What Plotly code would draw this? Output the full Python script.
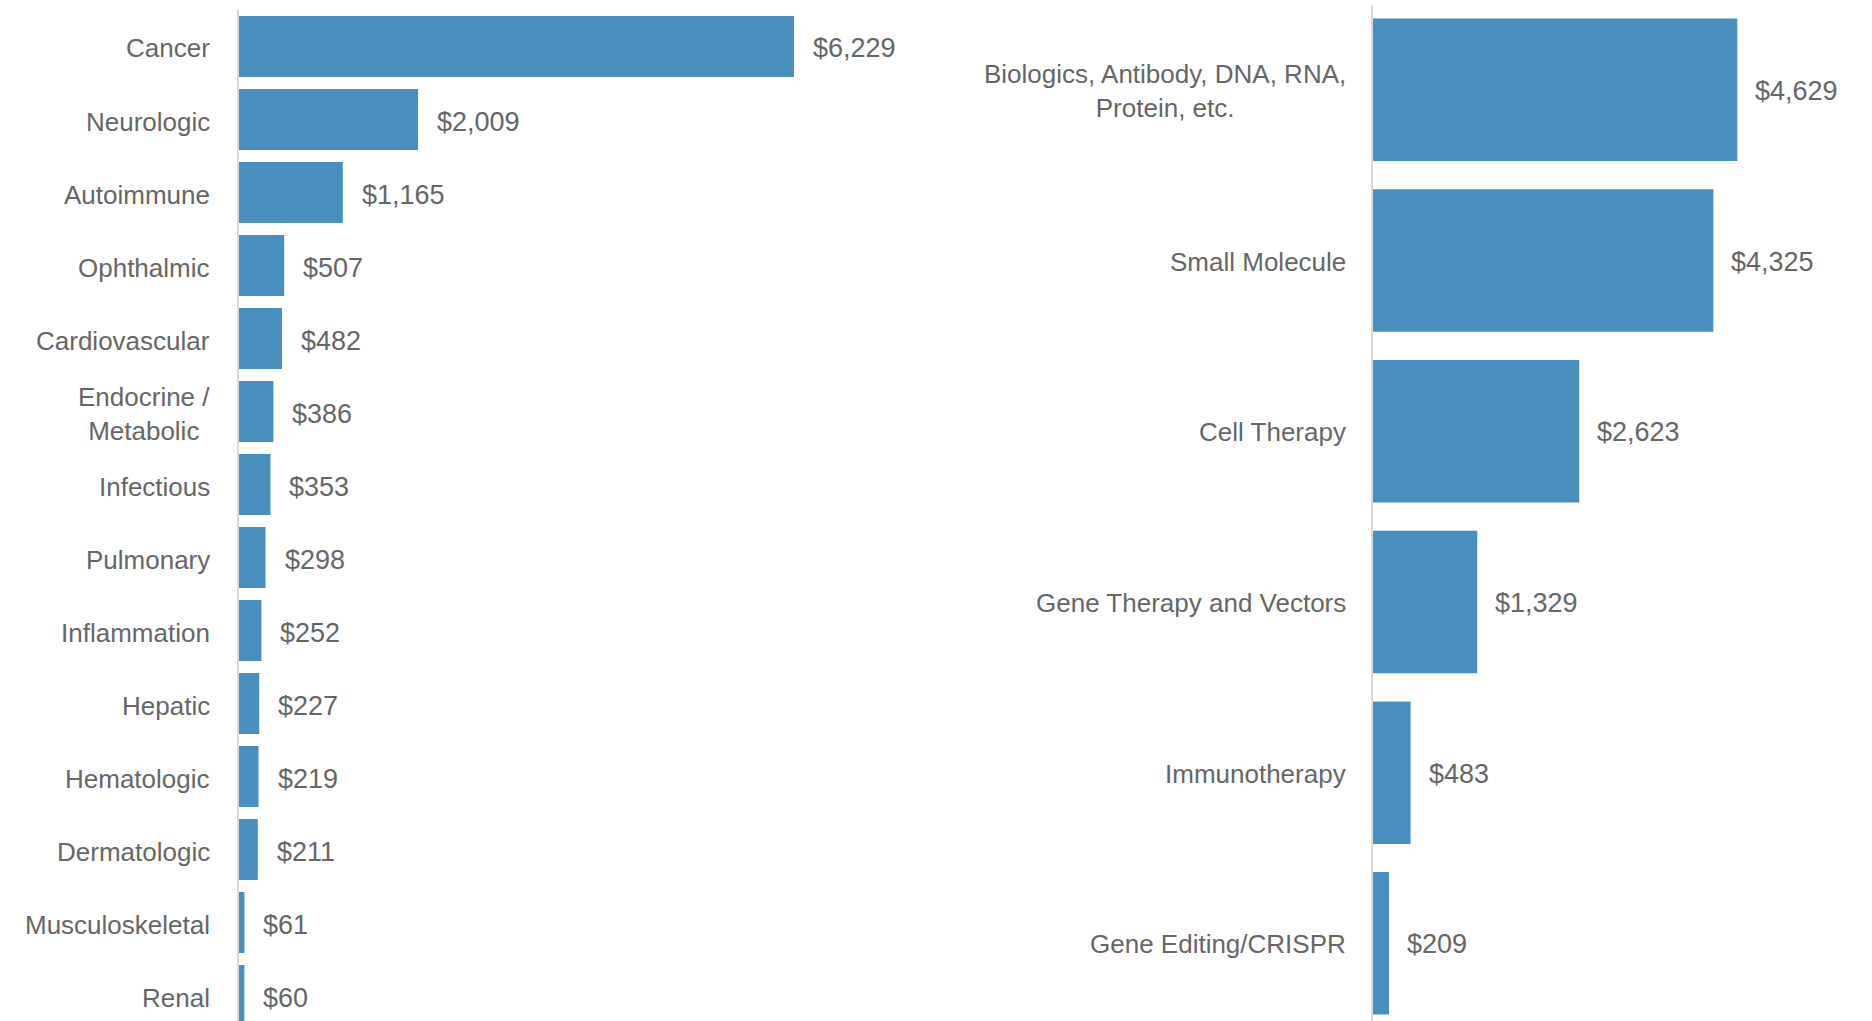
import plotly.graph_objects as go

# ---- data ----
area_categories = ["Cancer", "Neurologic", "Autoimmune", "Ophthalmic", "Cardiovascular",
                   "Endocrine / Metabolic", "Infectious", "Pulmonary", "Inflammation",
                   "Hepatic", "Hematologic", "Dermatologic", "Musculoskeletal", "Renal"]
area_labels = ["Cancer", "Neurologic", "Autoimmune", "Ophthalmic", "Cardiovascular",
               "Endocrine /<br>Metabolic", "Infectious", "Pulmonary", "Inflammation",
               "Hepatic", "Hematologic", "Dermatologic", "Musculoskeletal", "Renal"]
area_values = [6229, 2009, 1165, 507, 482, 386, 353, 298, 252, 227, 219, 211, 61, 60]

modality_categories = ["Biologics, Antibody, DNA, RNA, Protein, etc.", "Small Molecule",
                       "Cell Therapy", "Gene Therapy and Vectors", "Immunotherapy",
                       "Gene Editing/CRISPR"]
modality_labels = ["Biologics, Antibody, DNA, RNA,<br>Protein, etc.", "Small Molecule",
                   "Cell Therapy", "Gene Therapy and Vectors", "Immunotherapy",
                   "Gene Editing/CRISPR"]
modality_values = [4629, 4325, 2623, 1329, 483, 209]

# ---- style ----
W, H = 1872, 1021
BAR = "#488fc0"
TXT = "#666666"
FONT = "Liberation Sans, Arial, sans-serif"
FS = 26
FSV = 27
AXLINE = "#d9d9d9"

left_x0, left_x1 = 239, 930
right_x0 = 1372.5
left_scale = 0.0891
right_scale = 0.0788

fig = go.Figure()
fig.add_trace(go.Bar(x=area_values, y=area_categories, orientation="h",
                     marker=dict(color=BAR, line=dict(width=0)),
                     xaxis="x", yaxis="y", hoverinfo="x+y"))
fig.add_trace(go.Bar(x=modality_values, y=modality_categories, orientation="h",
                     marker=dict(color=BAR, line=dict(width=0)),
                     xaxis="x2", yaxis="y2", hoverinfo="x+y"))

annotations = []
for cat, lab, v in zip(area_categories, area_labels, area_values):
    annotations.append(dict(x=0, xref="x domain", y=cat, yref="y", text=lab,
                            xanchor="right", yanchor="middle", align="center",
                            xshift=-27, yshift=-2, showarrow=False,
                            font=dict(family=FONT, size=FS, color=TXT)))
    annotations.append(dict(x=v, xref="x", y=cat, yref="y", text=f"${v:,}",
                            xanchor="left", yanchor="middle", xshift=17, yshift=-2,
                            showarrow=False,
                            font=dict(family=FONT, size=FSV, color=TXT)))
for cat, lab, v in zip(modality_categories, modality_labels, modality_values):
    annotations.append(dict(x=0, xref="x2 domain", y=cat, yref="y2", text=lab,
                            xanchor="right", yanchor="middle", align="center",
                            xshift=-25, yshift=-1, showarrow=False,
                            font=dict(family=FONT, size=FS, color=TXT)))
    annotations.append(dict(x=v, xref="x2", y=cat, yref="y2", text=f"${v:,}",
                            xanchor="left", yanchor="middle", xshift=16, yshift=-1,
                            showarrow=False,
                            font=dict(family=FONT, size=FSV, color=TXT)))

left_span = (left_x1 - left_x0) / left_scale
right_span = (W - right_x0) / right_scale
left_pitch = 73.0
right_pitch = 170.7
left_top = 10.0
right_top = 4.5

fig.update_layout(
    width=W, height=H,
    margin=dict(l=0, r=0, t=0, b=0),
    paper_bgcolor="white", plot_bgcolor="white",
    showlegend=False, bargap=0.165,
    font=dict(family=FONT, size=FS, color=TXT),
    xaxis=dict(domain=[left_x0 / W, left_x1 / W], range=[0, left_span],
               showgrid=False, zeroline=False, showticklabels=False, ticks="",
               anchor="y"),
    yaxis=dict(domain=[0, 1 - left_top / H],
               range=[-0.5 + (H - left_top) / left_pitch, -0.5],
               showgrid=False, zeroline=False, showticklabels=False, ticks="",
               showline=True, linecolor=AXLINE, linewidth=2, anchor="x"),
    xaxis2=dict(domain=[right_x0 / W, 1], range=[0, right_span],
                showgrid=False, zeroline=False, showticklabels=False, ticks="",
                anchor="y2"),
    yaxis2=dict(domain=[0, 1 - right_top / H],
                range=[-0.5 + (H - right_top) / right_pitch, -0.5],
                showgrid=False, zeroline=False, showticklabels=False, ticks="",
                showline=True, linecolor=AXLINE, linewidth=2, anchor="x2"),
    annotations=annotations,
)

fig.write_html("out.html")
